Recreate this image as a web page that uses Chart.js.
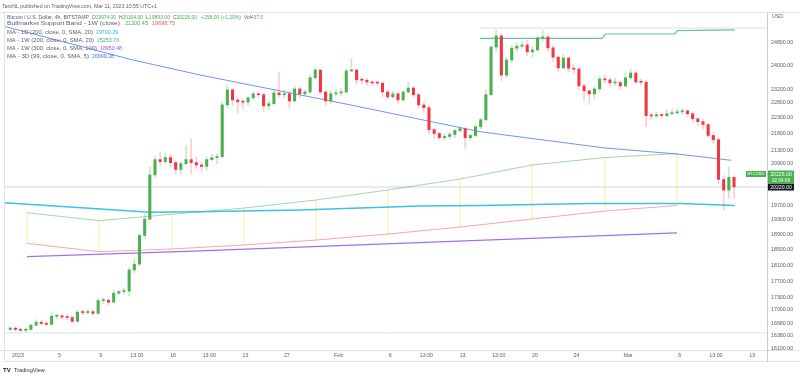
<!DOCTYPE html>
<html>
<head>
<meta charset="utf-8">
<script src="https://cdn.jsdelivr.net/npm/chart.js@4.4.0/dist/chart.umd.min.js"></script>
<style>
  html, body { margin: 0; padding: 0; background: #fff; }
</style>
</head>
<body>
<canvas id="chart_BTC" width="800" height="378"></canvas>
<script>
// time is in days since 1 Jan 2023 00:00, one candle = 12h
const firstCandle = -1;
const candleStep = 0.5;
const firstOpen = 16530;

const closes = [16560,16530,16510,16530,16630,16700,16670,16650,16840,16850,
  16820,16810,16720,16940,16930,16950,16910,17220,17230,17180,
  17400,17440,17450,17980,18130,18880,19320,20570,21020,20960,
  21080,20930,20730,20900,21020,20930,20860,20820,21020,21080,
  21110,22710,23200,22870,22810,22800,22940,23070,23040,22680,
  22750,23100,23040,23070,22840,23230,23070,23130,23600,23860,
  23130,22840,23070,23100,23130,23830,23860,23530,23520,23460,
  23430,23420,23130,22970,23070,22870,23130,23260,23040,22710,
  22620,21930,21810,21680,21720,21780,21900,21960,21680,21750,
  22020,22240,23040,24650,25040,23690,24200,24610,24680,24720,
  24480,24550,24970,25000,24620,24300,23930,24270,23920,23890,
  23330,23170,23070,23230,23560,23530,23430,23440,23330,23600,
  23760,23460,23450,22370,22360,22400,22370,22430,22460,22490,
  22520,22430,22270,22180,22090,21750,21620,20440,20130,20500,
  20226];

const highs = [16600,16590,16560,16560,16660,16760,16740,16720,16950,16900,
  16890,16870,16840,16990,16980,17010,16990,17280,17290,17260,
  17480,17480,17520,18050,18270,18950,19450,20800,21100,21250,
  21200,21180,20990,20960,21440,21650,21100,20950,21100,21180,
  21190,22800,23370,23250,22950,22900,23000,23140,23150,23100,
  22850,23200,23800,23200,23150,23320,23300,23200,23700,23950,
  23880,23180,23150,23200,23250,23900,24250,23900,23600,23580,
  23500,23490,23450,23200,23150,23100,23180,23450,23300,23100,
  22800,22700,21960,21850,21800,21850,21950,22050,22000,21800,
  22080,22300,23200,24700,25250,25100,24300,24700,24800,24850,
  24900,24650,25050,25250,25050,24700,24350,24400,24300,24050,
  23950,23400,23200,23300,23650,23700,23600,23600,23500,23800,
  23900,23800,23550,23500,22450,22480,22450,22550,22560,22580,
  22600,22560,22480,22300,22250,22100,21850,21700,20550,20800,
  20550];

const lows = [16500,16490,16480,16470,16510,16610,16640,16610,16630,16790,
  16780,16760,16690,16700,16880,16900,16870,16890,17140,17100,
  17160,17360,17380,17330,17900,18100,18800,19300,20500,20850,
  20900,20800,20600,20600,20850,20600,20750,20650,20700,20980,
  20900,21080,22600,22700,22450,22600,22700,22880,22950,22500,
  22550,22700,22950,22950,22600,22800,22950,23000,23100,23550,
  23050,22700,22750,22980,23000,23100,23800,23400,23400,23350,
  23350,23350,22980,22900,22920,22760,22850,23100,22950,22620,
  22480,21800,21650,21600,21620,21650,21700,21850,21360,21600,
  21700,21950,22200,23000,24500,23500,23600,24100,24500,24600,
  24350,24300,24500,24850,24500,24150,23800,23900,23800,23750,
  23200,22850,22720,22900,23150,23400,23300,23350,23200,23300,
  23550,23400,23350,22020,22250,22300,22300,22330,22380,22400,
  22420,22350,22150,22050,21950,21700,21500,20300,19580,19900,
  19890];

// indicators, read at a few points
const ma3dDays = [-1.26, 11.12, 17.6, 32.1, 44.68, 56.77, 63.73, 68.96];
const ma3dValues = [25375, 24200, 23694, 22714, 21866, 21368, 21187, 20999];

const ma1dDays = [-1.26, 12.77, 17.6, 27.27, 38.88, 44.68, 55.32, 64.02, 69.34];
const ma1dValues = [19776, 19510, 19526, 19572, 19684, 19700, 19753, 19753, 19700];

const ma1wDays = [44.68, 56.5, 56.8, 63.5, 63.8, 69.34];
const ma1wValues = [24955, 24955, 25107, 25107, 25225, 25253];

const ma300Days = [0.87, 17.6, 63.73];
const ma300Values = [18322, 18476, 18950];

const bandDays = [0.87, 7.83, 14.89, 21.86, 28.82, 35.78, 42.75, 49.71, 56.77, 63.73];
const bandUpper = [19498, 19280, 19456, 19627, 19852, 20136, 20451, 20859, 21082, 21200];
const bandLower = [18672, 18451, 18523, 18628, 18759, 18918, 19106, 19324, 19545, 19699];

const priceTicks = [24800, 24000, 23200, 22800, 22300, 21800, 21300, 20900, 19700, 19300,
  18900, 18500, 18100, 17700, 17300, 17000, 16680, 16380, 16100];
const timeTicks = [0, 4, 8, 11.5, 15, 18.5, 22, 26, 31, 36, 39.5, 43, 46.5, 50, 54, 59, 64, 67.5, 71];
const timeLabels = ['2023', '5', '9', '13:00', '16', '13:00', '23', '27', 'Feb', '6', '13:00', '13', '13:00', '20', '24', 'Mar', '6', '13:00', '13'];

const xMin = -1.354, xMax = 72.44;
const yMin = 16056, yMax = 25865;

const upColor = '#4caf50';
const downColor = '#f23645';
const textGray = '#5d606b';
const legendFont = '5.5px "Liberation Sans", Arial, sans-serif';

const opens = closes.map((c, i) => i === 0 ? firstOpen : closes[i - 1]);
const times = closes.map((c, i) => firstCandle + i * candleStep + candleStep / 2);
const isUp = closes.map((c, i) => c >= opens[i]);

const pts = (days, vals) => days.map((d, i) => ({ x: d, y: vals[i] }));
const flatLine = (a, b, v) => [{ x: a, y: v }, { x: b, y: v }];

function lineSet(data, color, width, order) {
  return {
    type: 'line', data: data, borderColor: color, borderWidth: width,
    pointRadius: 0, tension: 0, order: order
  };
}

// draws coloured parts squeezed/stretched to a given width
function fitParts(ctx, parts, x, y, w) {
  let total = 0;
  parts.forEach(p => { total += ctx.measureText(p[0]).width; });
  ctx.save();
  ctx.translate(x, y);
  ctx.scale(w / total, 1);
  let cx = 0;
  parts.forEach(([t, c]) => {
    ctx.fillStyle = c;
    ctx.fillText(t, cx, 0);
    cx += ctx.measureText(t).width;
  });
  ctx.restore();
}

const legendRows = [
  [6, [[2, 155, [['TaroNL published on TradingView.com, Mar 11, 2023 10:55 UTC+1', textGray]]]]],
  [17.5, [
    [7, 82, [['Bitcoin / U.S. Dollar, 4h, BITSTAMP', textGray]]],
    [92, 24, [['O', textGray], ['19974.00', upColor]]],
    [119, 24, [['H', textGray], ['20304.00', upColor]]],
    [146, 24, [['L', textGray], ['19893.00', upColor]]],
    [173, 24, [['C', textGray], ['20226.00', upColor]]],
    [201, 40, [['+258.00 (+1.29%)', upColor]]],
    [244, 19, [['Vol', textGray], ['437.5', upColor]]]]],
  [23.5, [
    [7, 113, [['Bullmarket Support Band - 1W (close)', textGray]]],
    [125, 23, [['21200.45', upColor]]],
    [152, 23, [['19698.75', '#f05263']]]]],
  [32.7, [[7, 86, [['MA - 1D (200, close, 0, SMA, 20)', textGray]]], [96, 22, [['19700.29', '#26b8d8']]]]],
  [40.7, [[7, 87, [['MA - 1W (200, close, 0, SMA, 20)', textGray]]], [97, 22, [['25253.73', '#3fb08d']]]]],
  [48.7, [[7, 90, [['MA - 1W (300, close, 0, SMA, 100)', textGray]]], [100, 22, [['18950.48', '#8f5cf5']]]]],
  [56, [[7, 82, [['MA - 3D (99, close, 0, SMA, 5)', textGray]]], [92, 22, [['20999.28', '#3f6ff0']]]]]
];

const tvFrame = {
  id: 'tvFrame',
  afterDraw(chart) {
    const ctx = chart.ctx;
    const ys = chart.scales.y;
    const xs = chart.scales.x;
    ctx.save();

    ctx.strokeStyle = '#e0e3eb';
    ctx.lineWidth = 1;
    ctx.beginPath();
    ctx.moveTo(0, 12.5); ctx.lineTo(800, 12.5);
    ctx.moveTo(0, 350.5); ctx.lineTo(800, 350.5);
    ctx.moveTo(4, 361.5); ctx.lineTo(800, 361.5);
    ctx.moveTo(4.5, 12.5); ctx.lineTo(4.5, 362);
    ctx.stroke();
    ctx.strokeStyle = '#c8cbd3';
    ctx.beginPath();
    ctx.moveTo(767.5, 12.5); ctx.lineTo(767.5, 362);
    ctx.stroke();

    ctx.textBaseline = 'middle';
    ctx.font = '5.3px "Liberation Sans", Arial, sans-serif';

    // price axis
    ctx.fillStyle = textGray;
    ctx.textAlign = 'left';
    ctx.fillText('USD', 772, 17);
    priceTicks.forEach(v => {
      ctx.fillText(v.toFixed(2), 771, ys.getPixelForValue(v));
    });

    // time axis
    ctx.textAlign = 'center';
    timeTicks.forEach((d, i) => {
      ctx.fillText(timeLabels[i], xs.getPixelForValue(d), 356);
    });

    // last price labels
    ctx.fillStyle = upColor;
    ctx.fillRect(746, 171, 20, 6);
    ctx.fillRect(768, 170.5, 26, 13.5);
    ctx.fillStyle = '#131722';
    ctx.fillRect(768, 184, 26, 6.5);
    ctx.fillStyle = '#fff';
    ctx.font = '4.2px "Liberation Sans", Arial, sans-serif';
    ctx.fillText('BTCUSD', 756, 174.2);
    ctx.font = '5.2px "Liberation Sans", Arial, sans-serif';
    ctx.fillText('20226.00', 781, 174.3);
    ctx.fillText('20220.00', 781, 187.4);
    ctx.font = '4.6px "Liberation Sans", Arial, sans-serif';
    ctx.fillText('02:04:08', 781, 180.4);

    // header and legend
    ctx.textAlign = 'left';
    ctx.font = legendFont;
    legendRows.forEach(([y, groups]) => {
      groups.forEach(([x0, w, parts]) => fitParts(ctx, parts, x0, y, w));
    });

    // logo
    ctx.fillStyle = '#131722';
    ctx.font = 'bold 6px "Liberation Sans", Arial, sans-serif';
    ctx.fillText('TV', 3, 370);
    ctx.font = '5.6px "Liberation Sans", Arial, sans-serif';
    ctx.fillStyle = '#2a2e39';
    ctx.fillText('TradingView', 14, 370);
    ctx.restore();
  }
};

const ctx = document.getElementById('chart_BTC');

new Chart(ctx, {
  type: 'bar',
  data: {
    datasets: [
      {
        label: 'bodies',
        data: times.map((t, i) => ({ x: t, y: [opens[i], closes[i]] })),
        backgroundColor: isUp.map(u => u ? upColor : downColor),
        barThickness: 2.4,
        minBarLength: 1,
        grouped: false,
        order: 0
      },
      {
        label: 'wicks',
        data: times.map((t, i) => ({ x: t, y: [lows[i], highs[i]] })),
        backgroundColor: isUp.map(u => u ? 'rgba(76,175,80,0.3)' : 'rgba(242,54,69,0.25)'),
        barThickness: 1,
        grouped: false,
        order: 1
      },
      {
        label: 'band links',
        data: bandDays.map((d, i) => ({ x: d, y: [bandLower[i], bandUpper[i]] })),
        backgroundColor: 'rgba(250,230,120,0.45)',
        barThickness: 1,
        grouped: false,
        order: 9
      },
      lineSet(pts(bandDays, bandUpper), 'rgba(76,175,80,0.5)', 1, 5),
      lineSet(pts(bandDays, bandLower), 'rgba(242,80,90,0.5)', 1, 5),
      lineSet(pts(ma300Days, ma300Values), '#a070f5', 1.3, 4),
      lineSet(pts(ma1dDays, ma1dValues), '#3cc3e3', 1.5, 3),
      lineSet(pts(ma1wDays, ma1wValues), '#66c2a5', 1.2, 3),
      lineSet(pts(ma3dDays, ma3dValues), 'rgba(80,120,240,0.8)', 1, 3),
      lineSet(flatLine(xMin, xMax, 20220), 'rgba(190,194,204,0.7)', 1, 8),
      lineSet(flatLine(xMin, xMax, 16450), 'rgba(210,214,222,0.7)', 1, 8),
      lineSet(flatLine(44.68, xMax, 25320), 'rgba(210,214,222,0.8)', 1, 8)
    ]
  },
  options: {
    responsive: false,
    animation: false,
    events: [],
    layout: { padding: { left: 4, right: 33, top: 13, bottom: 28 } },
    plugins: {
      legend: { display: false },
      tooltip: { enabled: false }
    },
    scales: {
      x: { type: 'linear', min: xMin, max: xMax, offset: false, display: false },
      y: { type: 'logarithmic', min: yMin, max: yMax, display: false }
    }
  },
  plugins: [tvFrame]
});
</script>
</body>
</html>
